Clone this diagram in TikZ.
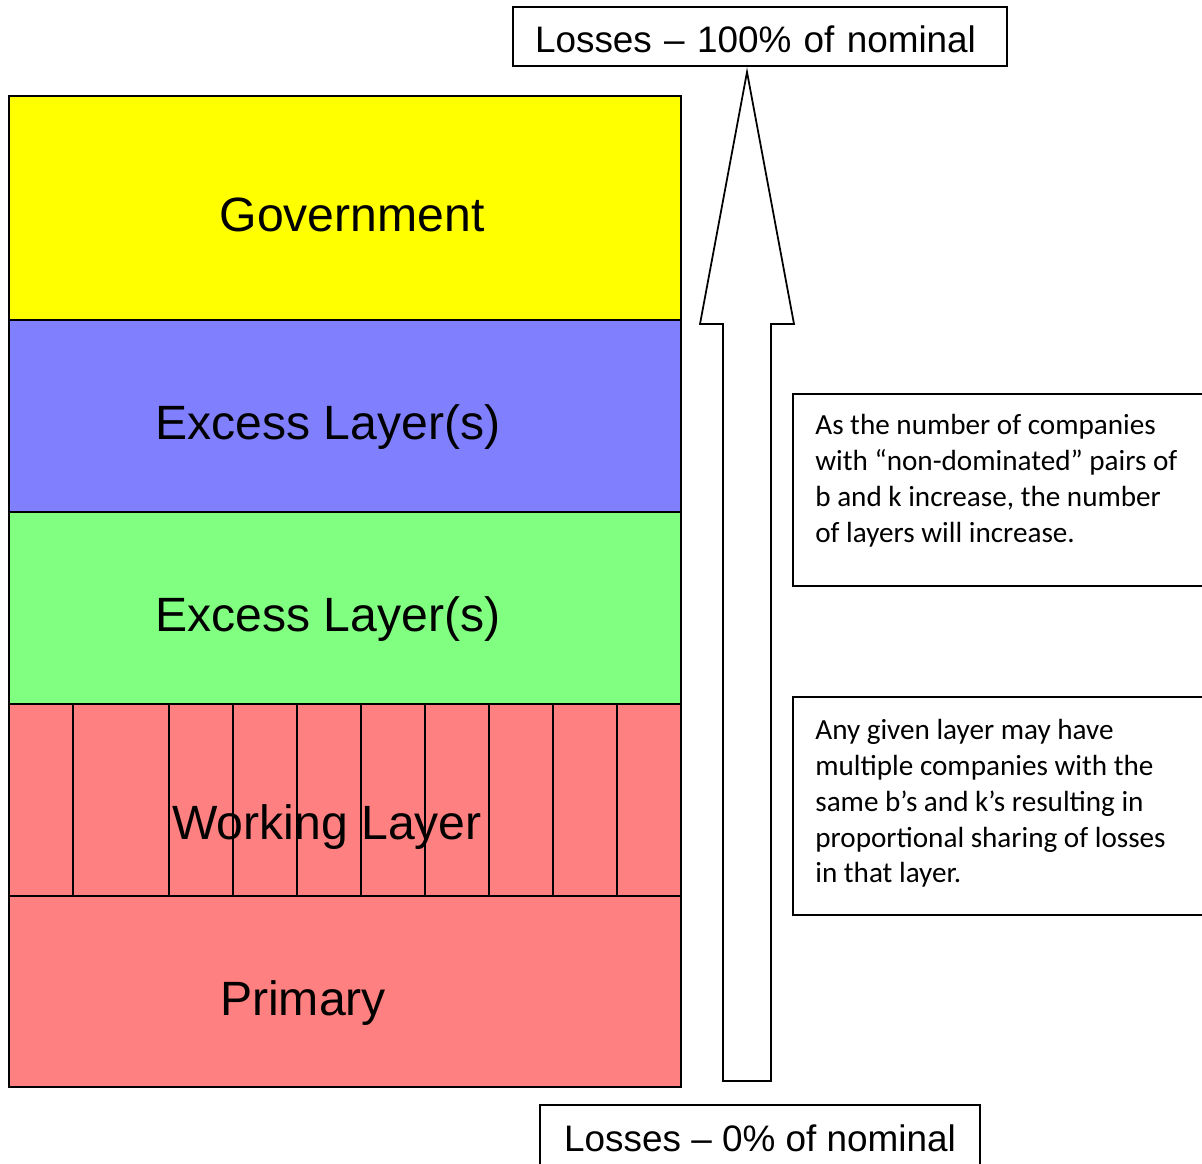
\documentclass[tikz,border=0pt]{standalone}
\usepackage{fontspec}
\setmainfont{Liberation Sans}
\newfontfamily\notefont{Carlito}
\usepackage{tikz}

\definecolor{govyellow}{RGB}{255,255,0}
\definecolor{excblue}{RGB}{128,128,255}
\definecolor{excgreen}{RGB}{128,255,128}
\definecolor{layerred}{RGB}{255,128,128}

\begin{document}
\begin{tikzpicture}[
		x=0.02cm, y=-0.02cm,
		every node/.style={inner sep=0pt},
		layer/.style={draw, line width=1pt},
		layer text/.style={anchor=base, font=\fontsize{27.4}{32}\selectfont},
		loss box/.style={draw, line width=0.8pt, font=\fontsize{21}{25}\selectfont},
		note/.style={anchor=north west, align=left, font=\notefont\fontsize{16.6}{20.4}\selectfont}
	]
  \clip (0,0) rectangle (1202,1163);
  \draw[layer, fill=govyellow] (9,96) rectangle (681,320);
  \draw[layer, fill=excblue] (9,320) rectangle (681,512);
  \draw[layer, fill=excgreen] (9,512) rectangle (681,704);
  \draw[layer, fill=layerred] (9,704) rectangle (681,896);
  \draw[layer, fill=layerred] (9,896) rectangle (681,1087);
  % companies sharing the working layer
  \draw[line width=0.8pt] (73,704) -- (73,896);
  \draw[line width=0.8pt] (169,704) -- (169,896);
  \draw[line width=0.8pt] (233,704) -- (233,896);
  \draw[line width=0.8pt] (297,704) -- (297,896);
  \draw[line width=0.8pt] (361,704) -- (361,896);
  \draw[line width=0.8pt] (425,704) -- (425,896);
  \draw[line width=0.8pt] (489,704) -- (489,896);
  \draw[line width=0.8pt] (553,704) -- (553,896);
  \draw[line width=0.8pt] (617,704) -- (617,896);
  \node (gov) [layer text] at (352,231) {Government};
  \node (exc_1) [layer text] at (328,439) {Excess Layer(s)};
  \node (exc_2) [layer text] at (328,631) {Excess Layer(s)};
  \node (work) [layer text] at (327,839) {Working Layer};
  \node (prim) [layer text] at (303,1015) {Primary};
  % loss arrow
  \draw[line width=1pt, fill=white] (723,1081) -- (723,324) -- (700,324) -- (747,72)
    -- (794,324) -- (771,324) -- (771,1081) -- cycle;
  \node (loss_top) [loss box, inner xsep=0.44cm, text width=9cm, align=left,
    text height=0.66cm, text depth=0pt, minimum height=1.18cm] at (760,36.5) {Losses -- 100\% of nominal};
  \node (loss_bot) [loss box, minimum width=8.8cm, minimum height=1.32cm] at (760,1138) {Losses -- 0\% of nominal};
  % notes
  \draw[line width=0.8pt] (793,394) rectangle (1240,586);
  \node (note_1) [note] at (815,414) {As the number of companies\\with “non-dominated” pairs of\\b and k increase, the number\\of layers will increase.};
  \draw[line width=0.8pt] (793,697) rectangle (1240,915);
  \node (note_2) [note] at (815,719) {Any given layer may have\\multiple companies with the\\same b’s and k’s resulting in\\proportional sharing of losses\\in that layer.};
\end{tikzpicture}
\end{document}
